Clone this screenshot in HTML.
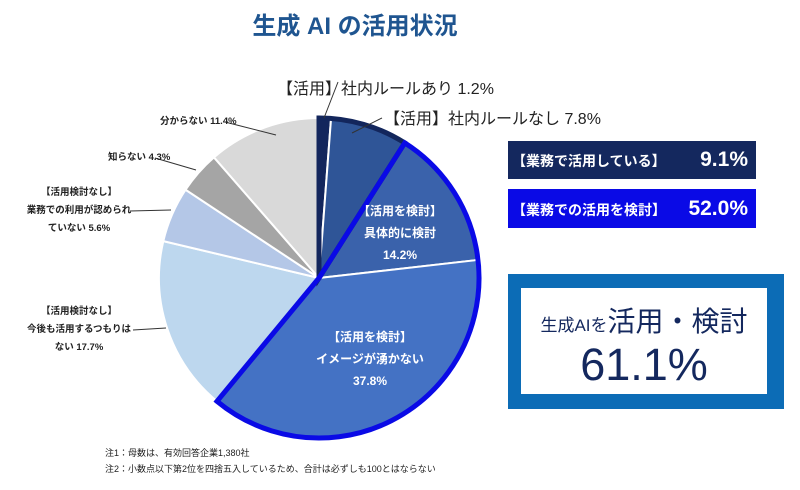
<!DOCTYPE html>
<html><head><meta charset="utf-8"><style>
body{margin:0;width:800px;height:490px;background:#fff;overflow:hidden;font-family:"Liberation Sans","Noto Sans CJK JP",sans-serif;}
.t{position:absolute;white-space:nowrap;}
</style></head><body>
<div class="t" style="left:0;width:710px;top:6px;text-align:center;font-size:24px;font-weight:bold;color:#1f5590;">生成 AI の活用状況</div>
<svg id="s" width="800" height="490" style="position:absolute;left:0;top:0"></svg>
<div class="t" style="left:277px;top:75px;font-size:16px;color:#222;">【活用】社内ルールあり 1.2%</div>
<div class="t" style="left:384px;top:105px;font-size:16px;color:#222;">【活用】社内ルールなし 7.8%</div>
<div class="t" style="left:160px;top:113px;font-size:9.5px;color:#222;font-weight:bold;">分からない 11.4%</div>
<div class="t" style="left:108px;top:149px;font-size:9.5px;color:#222;font-weight:bold;">知らない 4.3%</div>
<div class="t" style="left:8px;top:184px;width:142px;text-align:center;font-size:9.5px;line-height:18px;color:#222;font-weight:bold;">【活用検討なし】<br>業務での利用が認められ<br>ていない 5.6%</div>
<div class="t" style="left:8px;top:303px;width:142px;text-align:center;font-size:9.5px;line-height:18px;color:#222;font-weight:bold;">【活用検討なし】<br>今後も活用するつもりは<br>ない 17.7%</div>
<div class="t" style="left:345px;top:200px;width:110px;text-align:center;font-size:12px;line-height:22px;color:#fff;font-weight:bold;">【活用を検討】<br>具体的に検討<br>14.2%</div>
<div class="t" style="left:300px;top:326px;width:140px;text-align:center;font-size:12px;line-height:22px;color:#fff;font-weight:bold;">【活用を検討】<br>イメージが湧かない<br>37.8%</div>
<div class="t" style="left:508px;top:141px;width:248px;height:38px;background:#14285e;color:#fff;font-weight:bold;">
<span style="position:absolute;left:4px;top:10px;font-size:14px;">【業務で活用している】</span><span style="position:absolute;right:8px;top:7px;font-size:21px;">9.1%</span></div>
<div class="t" style="left:508px;top:189px;width:248px;height:39px;background:#0a0ae6;color:#fff;font-weight:bold;">
<span style="position:absolute;left:4px;top:11px;font-size:14px;">【業務での活用を検討】</span><span style="position:absolute;right:8px;top:8px;font-size:21px;">52.0%</span></div>
<div class="t" style="left:508px;top:274px;width:276px;height:135px;background:#0c6cb6;">
<div style="position:absolute;left:13px;top:14px;width:246px;height:106px;background:#fff;color:#14285e;text-align:center;">
<div style="margin-top:12px;font-size:17px;">生成AIを<span style="font-size:28px;">活用・検討</span></div>
<div style="font-size:45px;line-height:50px;">61.1%</div></div></div>
<div class="t" style="left:105px;top:445px;font-size:9px;color:#222;line-height:16px;">注1：母数は、有効回答企業1,380社<br>注2：小数点以下第2位を四捨五入しているため、合計は必ずしも100とはならない</div>
<script>
var s=document.getElementById('s'),cx=319,cy=278,r=160;
var d=[[1.2,'#13265c'],[7.8,'#2f5597'],[14.2,'#3a62ab'],[37.8,'#4472c4'],[17.7,'#bdd7ee'],[5.6,'#b4c7e7'],[4.3,'#a5a5a5'],[11.4,'#d9d9d9']];
function pt(p,rr){var a=p/100*2*Math.PI;return [cx+rr*Math.sin(a),cy-rr*Math.cos(a)];}
function arc(a,b,rr){var p=pt(a,rr),q=pt(b,rr);return 'M'+cx+','+cy+'L'+p[0]+','+p[1]+'A'+rr+','+rr+' 0 '+((b-a)>50?1:0)+' 1 '+q[0]+','+q[1]+'Z';}
var h='',c=0;
d.forEach(function(e){h+='<path d="'+arc(c,c+e[0],r)+'" fill="'+e[1]+'" stroke="#fff" stroke-width="2"/>';c+=e[0];});
h+='<path d="'+arc(0,9,r)+'" fill="none" stroke="#13265c" stroke-width="5" stroke-linejoin="miter"/>';
h+='<path d="'+arc(9,61,r)+'" fill="none" stroke="#0a0ae6" stroke-width="5"/>';
var L=[[338,82,324,118],[382,118,352,133],[225,122,276,135],[155,158,196,170],[130,211,171,210],[133,330,166,328]];
L.forEach(function(l){h+='<line x1="'+l[0]+'" y1="'+l[1]+'" x2="'+l[2]+'" y2="'+l[3]+'" stroke="#333" stroke-width="1"/>';});
s.innerHTML=h;
</script>
</body></html>
